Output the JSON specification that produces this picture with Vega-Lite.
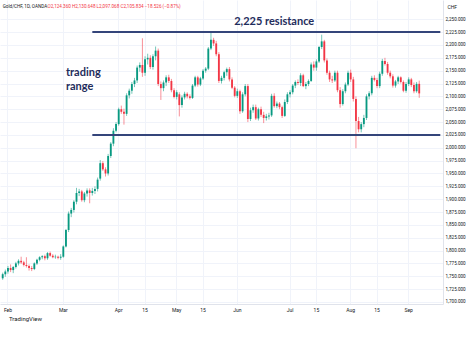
{
  "$schema": "https://vega.github.io/schema/vega-lite/v6.json",
  "width": 443,
  "height": 304,
  "padding": {"left": 0, "top": 0, "right": 0, "bottom": 0},
  "background": "white",
  "title": {"text": "TradingView", "orient": "bottom", "anchor": "start", "fontSize": 6, "font": "Roboto", "fontWeight": "normal", "color": "#131722", "offset": 4, "dx": 9},
  "datasets": {
    "candles": [
      {"d":"2024-01-30","o":1746,"h":1757,"l":1743,"c":1754},
      {"d":"2024-01-31","o":1754,"h":1763,"l":1749,"c":1759},
      {"d":"2024-02-01","o":1759,"h":1770,"l":1755,"c":1766},
      {"d":"2024-02-02","o":1766,"h":1773,"l":1758,"c":1762},
      {"d":"2024-02-05","o":1762,"h":1770,"l":1756,"c":1768},
      {"d":"2024-02-06","o":1768,"h":1778,"l":1765,"c":1775},
      {"d":"2024-02-07","o":1775,"h":1783,"l":1771,"c":1780},
      {"d":"2024-02-08","o":1780,"h":1788,"l":1774,"c":1777},
      {"d":"2024-02-09","o":1777,"h":1780,"l":1769,"c":1772},
      {"d":"2024-02-12","o":1772,"h":1787,"l":1767,"c":1770},
      {"d":"2024-02-13","o":1770,"h":1773,"l":1761,"c":1766},
      {"d":"2024-02-14","o":1766,"h":1770,"l":1760,"c":1764},
      {"d":"2024-02-15","o":1764,"h":1777,"l":1762,"c":1775},
      {"d":"2024-02-16","o":1775,"h":1784,"l":1772,"c":1782},
      {"d":"2024-02-19","o":1782,"h":1789,"l":1779,"c":1787},
      {"d":"2024-02-20","o":1787,"h":1791,"l":1783,"c":1789},
      {"d":"2024-02-21","o":1789,"h":1792,"l":1781,"c":1785},
      {"d":"2024-02-22","o":1785,"h":1797,"l":1782,"c":1795},
      {"d":"2024-02-23","o":1795,"h":1798,"l":1788,"c":1790},
      {"d":"2024-02-26","o":1790,"h":1793,"l":1785,"c":1787},
      {"d":"2024-02-27","o":1787,"h":1792,"l":1784,"c":1788},
      {"d":"2024-02-28","o":1788,"h":1790,"l":1783,"c":1786},
      {"d":"2024-02-29","o":1786,"h":1793,"l":1782,"c":1788},
      {"d":"2024-03-01","o":1788,"h":1810,"l":1786,"c":1808},
      {"d":"2024-03-04","o":1808,"h":1842,"l":1806,"c":1840},
      {"d":"2024-03-05","o":1840,"h":1876,"l":1836,"c":1872},
      {"d":"2024-03-06","o":1872,"h":1883,"l":1865,"c":1879},
      {"d":"2024-03-07","o":1879,"h":1898,"l":1874,"c":1895},
      {"d":"2024-03-08","o":1895,"h":1922,"l":1890,"c":1912},
      {"d":"2024-03-11","o":1912,"h":1920,"l":1906,"c":1915},
      {"d":"2024-03-12","o":1915,"h":1918,"l":1895,"c":1898},
      {"d":"2024-03-13","o":1898,"h":1914,"l":1894,"c":1911},
      {"d":"2024-03-14","o":1911,"h":1921,"l":1905,"c":1917},
      {"d":"2024-03-15","o":1917,"h":1921,"l":1892,"c":1912},
      {"d":"2024-03-18","o":1912,"h":1922,"l":1907,"c":1916},
      {"d":"2024-03-19","o":1916,"h":1925,"l":1910,"c":1920},
      {"d":"2024-03-20","o":1920,"h":1942,"l":1915,"c":1938},
      {"d":"2024-03-21","o":1940,"h":1976,"l":1936,"c":1970},
      {"d":"2024-03-22","o":1970,"h":1974,"l":1955,"c":1958},
      {"d":"2024-03-25","o":1958,"h":1962,"l":1944,"c":1950},
      {"d":"2024-03-26","o":1950,"h":1988,"l":1946,"c":1984},
      {"d":"2024-03-27","o":1984,"h":2011,"l":1980,"c":2008},
      {"d":"2024-03-28","o":2008,"h":2038,"l":2003,"c":2033},
      {"d":"2024-03-29","o":2033,"h":2050,"l":2030,"c":2046},
      {"d":"2024-04-01","o":2046,"h":2078,"l":2043,"c":2075},
      {"d":"2024-04-02","o":2075,"h":2082,"l":2066,"c":2070},
      {"d":"2024-04-03","o":2070,"h":2076,"l":2045,"c":2066},
      {"d":"2024-04-04","o":2066,"h":2106,"l":2062,"c":2102},
      {"d":"2024-04-05","o":2102,"h":2115,"l":2096,"c":2111},
      {"d":"2024-04-08","o":2111,"h":2128,"l":2105,"c":2124},
      {"d":"2024-04-09","o":2124,"h":2136,"l":2118,"c":2131},
      {"d":"2024-04-10","o":2131,"h":2160,"l":2126,"c":2156},
      {"d":"2024-04-11","o":2156,"h":2166,"l":2148,"c":2161},
      {"d":"2024-04-12","o":2161,"h":2213,"l":2138,"c":2146},
      {"d":"2024-04-15","o":2146,"h":2178,"l":2140,"c":2172},
      {"d":"2024-04-16","o":2172,"h":2183,"l":2162,"c":2175},
      {"d":"2024-04-17","o":2175,"h":2180,"l":2153,"c":2157},
      {"d":"2024-04-18","o":2157,"h":2182,"l":2152,"c":2178},
      {"d":"2024-04-19","o":2178,"h":2197,"l":2170,"c":2189},
      {"d":"2024-04-22","o":2189,"h":2193,"l":2120,"c":2124},
      {"d":"2024-04-23","o":2124,"h":2129,"l":2093,"c":2116},
      {"d":"2024-04-24","o":2116,"h":2131,"l":2110,"c":2127},
      {"d":"2024-04-25","o":2127,"h":2141,"l":2120,"c":2137},
      {"d":"2024-04-26","o":2137,"h":2142,"l":2126,"c":2130},
      {"d":"2024-04-29","o":2130,"h":2134,"l":2108,"c":2112},
      {"d":"2024-04-30","o":2112,"h":2116,"l":2096,"c":2099},
      {"d":"2024-05-01","o":2099,"h":2112,"l":2094,"c":2108},
      {"d":"2024-05-02","o":2104,"h":2108,"l":2061,"c":2083},
      {"d":"2024-05-03","o":2083,"h":2102,"l":2078,"c":2098},
      {"d":"2024-05-06","o":2098,"h":2109,"l":2094,"c":2105},
      {"d":"2024-05-07","o":2105,"h":2108,"l":2096,"c":2100},
      {"d":"2024-05-08","o":2100,"h":2104,"l":2094,"c":2097},
      {"d":"2024-05-09","o":2097,"h":2124,"l":2095,"c":2121},
      {"d":"2024-05-10","o":2121,"h":2140,"l":2118,"c":2137},
      {"d":"2024-05-13","o":2137,"h":2140,"l":2119,"c":2123},
      {"d":"2024-05-14","o":2123,"h":2138,"l":2120,"c":2135},
      {"d":"2024-05-15","o":2135,"h":2153,"l":2132,"c":2150},
      {"d":"2024-05-16","o":2150,"h":2157,"l":2146,"c":2154},
      {"d":"2024-05-17","o":2154,"h":2196,"l":2151,"c":2193},
      {"d":"2024-05-20","o":2193,"h":2224,"l":2190,"c":2210},
      {"d":"2024-05-21","o":2210,"h":2214,"l":2198,"c":2203},
      {"d":"2024-05-22","o":2203,"h":2208,"l":2178,"c":2182},
      {"d":"2024-05-23","o":2182,"h":2186,"l":2126,"c":2130},
      {"d":"2024-05-24","o":2130,"h":2140,"l":2125,"c":2136},
      {"d":"2024-05-27","o":2136,"h":2150,"l":2131,"c":2147},
      {"d":"2024-05-28","o":2147,"h":2156,"l":2140,"c":2153},
      {"d":"2024-05-29","o":2153,"h":2157,"l":2129,"c":2133},
      {"d":"2024-05-30","o":2133,"h":2137,"l":2114,"c":2117},
      {"d":"2024-05-31","o":2117,"h":2120,"l":2098,"c":2101},
      {"d":"2024-06-03","o":2101,"h":2115,"l":2097,"c":2110},
      {"d":"2024-06-04","o":2110,"h":2113,"l":2066,"c":2071},
      {"d":"2024-06-05","o":2071,"h":2108,"l":2068,"c":2104},
      {"d":"2024-06-06","o":2104,"h":2124,"l":2100,"c":2120},
      {"d":"2024-06-07","o":2120,"h":2124,"l":2050,"c":2056},
      {"d":"2024-06-10","o":2056,"h":2078,"l":2052,"c":2073},
      {"d":"2024-06-11","o":2073,"h":2084,"l":2068,"c":2079},
      {"d":"2024-06-12","o":2079,"h":2084,"l":2054,"c":2057},
      {"d":"2024-06-13","o":2057,"h":2078,"l":2053,"c":2075},
      {"d":"2024-06-14","o":2075,"h":2080,"l":2060,"c":2064},
      {"d":"2024-06-17","o":2064,"h":2070,"l":2048,"c":2058},
      {"d":"2024-06-18","o":2058,"h":2066,"l":2053,"c":2061},
      {"d":"2024-06-19","o":2061,"h":2068,"l":2055,"c":2063},
      {"d":"2024-06-20","o":2063,"h":2105,"l":2060,"c":2101},
      {"d":"2024-06-21","o":2101,"h":2106,"l":2078,"c":2081},
      {"d":"2024-06-24","o":2081,"h":2090,"l":2077,"c":2086},
      {"d":"2024-06-25","o":2086,"h":2089,"l":2075,"c":2079},
      {"d":"2024-06-26","o":2079,"h":2082,"l":2058,"c":2062},
      {"d":"2024-06-27","o":2062,"h":2094,"l":2060,"c":2089},
      {"d":"2024-06-28","o":2089,"h":2108,"l":2085,"c":2104},
      {"d":"2024-07-01","o":2104,"h":2112,"l":2098,"c":2108},
      {"d":"2024-07-02","o":2108,"h":2124,"l":2104,"c":2121},
      {"d":"2024-07-03","o":2121,"h":2131,"l":2116,"c":2128},
      {"d":"2024-07-04","o":2128,"h":2133,"l":2122,"c":2126},
      {"d":"2024-07-05","o":2126,"h":2145,"l":2120,"c":2141},
      {"d":"2024-07-08","o":2141,"h":2144,"l":2118,"c":2120},
      {"d":"2024-07-09","o":2120,"h":2128,"l":2114,"c":2124},
      {"d":"2024-07-10","o":2124,"h":2133,"l":2120,"c":2130},
      {"d":"2024-07-11","o":2130,"h":2166,"l":2128,"c":2162},
      {"d":"2024-07-12","o":2162,"h":2168,"l":2150,"c":2156},
      {"d":"2024-07-15","o":2156,"h":2172,"l":2150,"c":2168},
      {"d":"2024-07-16","o":2168,"h":2198,"l":2165,"c":2196},
      {"d":"2024-07-17","o":2196,"h":2220,"l":2192,"c":2207},
      {"d":"2024-07-18","o":2207,"h":2210,"l":2166,"c":2170},
      {"d":"2024-07-19","o":2170,"h":2174,"l":2142,"c":2146},
      {"d":"2024-07-22","o":2146,"h":2150,"l":2128,"c":2133},
      {"d":"2024-07-23","o":2133,"h":2140,"l":2126,"c":2131},
      {"d":"2024-07-24","o":2131,"h":2150,"l":2128,"c":2146},
      {"d":"2024-07-25","o":2146,"h":2150,"l":2108,"c":2112},
      {"d":"2024-07-26","o":2112,"h":2118,"l":2078,"c":2085},
      {"d":"2024-07-29","o":2085,"h":2114,"l":2082,"c":2110},
      {"d":"2024-07-30","o":2110,"h":2127,"l":2106,"c":2123},
      {"d":"2024-07-31","o":2123,"h":2150,"l":2120,"c":2146},
      {"d":"2024-08-01","o":2146,"h":2152,"l":2128,"c":2133},
      {"d":"2024-08-02","o":2133,"h":2138,"l":2090,"c":2095},
      {"d":"2024-08-05","o":2095,"h":2100,"l":1999,"c":2052},
      {"d":"2024-08-06","o":2052,"h":2060,"l":2030,"c":2036},
      {"d":"2024-08-07","o":2036,"h":2050,"l":2030,"c":2046},
      {"d":"2024-08-08","o":2046,"h":2064,"l":2040,"c":2058},
      {"d":"2024-08-09","o":2058,"h":2104,"l":2054,"c":2100},
      {"d":"2024-08-12","o":2100,"h":2110,"l":2094,"c":2106},
      {"d":"2024-08-13","o":2106,"h":2140,"l":2102,"c":2136},
      {"d":"2024-08-14","o":2136,"h":2141,"l":2129,"c":2132},
      {"d":"2024-08-15","o":2132,"h":2136,"l":2116,"c":2120},
      {"d":"2024-08-16","o":2120,"h":2148,"l":2116,"c":2144},
      {"d":"2024-08-19","o":2144,"h":2173,"l":2140,"c":2169},
      {"d":"2024-08-20","o":2169,"h":2175,"l":2160,"c":2163},
      {"d":"2024-08-21","o":2163,"h":2167,"l":2142,"c":2146},
      {"d":"2024-08-22","o":2146,"h":2150,"l":2135,"c":2139},
      {"d":"2024-08-23","o":2139,"h":2143,"l":2117,"c":2121},
      {"d":"2024-08-26","o":2121,"h":2132,"l":2117,"c":2129},
      {"d":"2024-08-27","o":2129,"h":2140,"l":2124,"c":2137},
      {"d":"2024-08-28","o":2137,"h":2139,"l":2125,"c":2128},
      {"d":"2024-08-29","o":2128,"h":2131,"l":2108,"c":2111},
      {"d":"2024-08-30","o":2111,"h":2128,"l":2107,"c":2124},
      {"d":"2024-09-02","o":2124,"h":2137,"l":2120,"c":2133},
      {"d":"2024-09-03","o":2133,"h":2136,"l":2118,"c":2122},
      {"d":"2024-09-04","o":2122,"h":2127,"l":2106,"c":2110},
      {"d":"2024-09-05","o":2110,"h":2128,"l":2107,"c":2124.36},
      {"d":"2024-09-06","o":2124.36,"h":2130.648,"l":2097.068,"c":2105.834}
    ],
    "levels": [
      {"d":"2024-03-18","d2":"2024-09-18","p":2225},
      {"d":"2024-03-18","d2":"2024-09-18","p":2025}
    ],
    "note1": [{"d":"2024-06-21","p":2244,"t":"2,225 resistance"}],
    "note2": [
      {"d":"2024-03-04","p":2146,"t":"trading"},
      {"d":"2024-03-04","p":2118,"t":"range"}
    ],
    "head1": [{"d":"2024-01-30","p":2274,"t":"Gold/CHF, 1D, OANDA"}],
    "head2": [{"d":"2024-02-22","p":2274,"t":"O2,124.360 H2,130.648 L2,097.068 C2,105.834 −18.526 (−0.87%)"}]
  },
  "layer": [
    {
      "data": {"name": "candles"},
      "mark": {"type": "rule", "strokeWidth": 1, "opacity": 0.55},
      "encoding": {
        "x": {
          "field": "d", "type": "ordinal", "title": null,
          "scale": {
            "paddingInner": 0.3, "paddingOuter": 0.67,
            "domain": ["2024-01-30","2024-01-31",
              "2024-02-01","2024-02-02","2024-02-05","2024-02-06","2024-02-07","2024-02-08","2024-02-09","2024-02-12","2024-02-13","2024-02-14","2024-02-15","2024-02-16","2024-02-19","2024-02-20","2024-02-21","2024-02-22","2024-02-23","2024-02-26","2024-02-27","2024-02-28","2024-02-29",
              "2024-03-01","2024-03-04","2024-03-05","2024-03-06","2024-03-07","2024-03-08","2024-03-11","2024-03-12","2024-03-13","2024-03-14","2024-03-15","2024-03-18","2024-03-19","2024-03-20","2024-03-21","2024-03-22","2024-03-25","2024-03-26","2024-03-27","2024-03-28","2024-03-29",
              "2024-04-01","2024-04-02","2024-04-03","2024-04-04","2024-04-05","2024-04-08","2024-04-09","2024-04-10","2024-04-11","2024-04-12","2024-04-15","2024-04-16","2024-04-17","2024-04-18","2024-04-19","2024-04-22","2024-04-23","2024-04-24","2024-04-25","2024-04-26","2024-04-29","2024-04-30",
              "2024-05-01","2024-05-02","2024-05-03","2024-05-06","2024-05-07","2024-05-08","2024-05-09","2024-05-10","2024-05-13","2024-05-14","2024-05-15","2024-05-16","2024-05-17","2024-05-20","2024-05-21","2024-05-22","2024-05-23","2024-05-24","2024-05-27","2024-05-28","2024-05-29","2024-05-30","2024-05-31",
              "2024-06-03","2024-06-04","2024-06-05","2024-06-06","2024-06-07","2024-06-10","2024-06-11","2024-06-12","2024-06-13","2024-06-14","2024-06-17","2024-06-18","2024-06-19","2024-06-20","2024-06-21","2024-06-24","2024-06-25","2024-06-26","2024-06-27","2024-06-28",
              "2024-07-01","2024-07-02","2024-07-03","2024-07-04","2024-07-05","2024-07-08","2024-07-09","2024-07-10","2024-07-11","2024-07-12","2024-07-15","2024-07-16","2024-07-17","2024-07-18","2024-07-19","2024-07-22","2024-07-23","2024-07-24","2024-07-25","2024-07-26","2024-07-29","2024-07-30","2024-07-31",
              "2024-08-01","2024-08-02","2024-08-05","2024-08-06","2024-08-07","2024-08-08","2024-08-09","2024-08-12","2024-08-13","2024-08-14","2024-08-15","2024-08-16","2024-08-19","2024-08-20","2024-08-21","2024-08-22","2024-08-23","2024-08-26","2024-08-27","2024-08-28","2024-08-29","2024-08-30",
              "2024-09-02","2024-09-03","2024-09-04","2024-09-05","2024-09-06","2024-09-09","2024-09-10","2024-09-11","2024-09-12","2024-09-13","2024-09-16","2024-09-17","2024-09-18"]
          },
          "axis": {
            "values": ["2024-02-01","2024-03-01","2024-04-01","2024-04-15","2024-05-01","2024-05-15","2024-06-03","2024-07-01","2024-07-15","2024-08-01","2024-08-15","2024-09-02"],
            "labelExpr": "slice(datum.value, 8) == '15' ? '15' : utcFormat(toDate(datum.value), '%b')",
            "labelAngle": 0, "ticks": false, "domain": true, "domainColor": "#e0e3eb",
            "grid": true, "gridColor": "#f0f3fa", "bandPosition": 0.5, "labelOverlap": false,
            "labelFont": "Roboto", "labelFontSize": 5, "labelColor": "#131722", "labelPadding": 3
          }
        },
        "y": {
          "field": "l", "type": "quantitative", "title": "CHF",
          "scale": {"domain": [1696, 2287.5], "nice": false, "zero": false},
          "axis": {
            "orient": "right",
            "values": [1700,1725,1750,1775,1800,1825,1850,1875,1900,1925,1950,1975,2000,2025,2050,2075,2100,2125,2150,2175,2200,2225,2250],
            "tickCount": 40,
            "format": ",.3f", "ticks": false, "domain": true, "domainColor": "#e0e3eb",
            "grid": true, "gridColor": "#f0f3fa", "labelOverlap": false,
            "labelFont": "Roboto", "labelFontSize": 4.6, "labelColor": "#131722", "labelPadding": 2,
            "titleAngle": 0, "titleAlign": "left", "titleBaseline": "middle",
            "titleX": 4, "titleY": 6, "titleFont": "Roboto", "titleFontSize": 5, "titleFontWeight": "normal", "titleColor": "#131722"
          }
        },
        "y2": {"field": "h"},
        "color": {"condition": {"test": "datum.c >= datum.o", "value": "#089981"}, "value": "#f23645"}
      }
    },
    {
      "data": {"name": "candles"},
      "mark": {"type": "bar"},
      "encoding": {
        "x": {"field": "d", "type": "ordinal"},
        "y": {"field": "o", "type": "quantitative"},
        "y2": {"field": "c"},
        "color": {"condition": {"test": "datum.c >= datum.o", "value": "#089981"}, "value": "#f23645"}
      }
    },
    {
      "data": {"name": "levels"},
      "mark": {"type": "rule", "strokeWidth": 2, "color": "#34457a"},
      "encoding": {
        "x": {"field": "d", "type": "ordinal"},
        "x2": {"field": "d2"},
        "y": {"field": "p", "type": "quantitative"}
      }
    },
    {
      "data": {"name": "note1"},
      "mark": {"type": "text", "font": "Lato", "fontWeight": "bold", "fontSize": 11, "color": "#1f2d5c", "align": "center", "baseline": "middle"},
      "encoding": {
        "x": {"field": "d", "type": "ordinal"},
        "y": {"field": "p", "type": "quantitative"},
        "text": {"field": "t"}
      }
    },
    {
      "data": {"name": "note2"},
      "mark": {"type": "text", "font": "Lato", "fontWeight": "bold", "fontSize": 11, "color": "#1f2d5c", "align": "left", "baseline": "middle"},
      "encoding": {
        "x": {"field": "d", "type": "ordinal"},
        "y": {"field": "p", "type": "quantitative"},
        "text": {"field": "t"}
      }
    },
    {
      "data": {"name": "head1"},
      "mark": {"type": "text", "font": "Roboto", "fontSize": 4.6, "color": "#131722", "align": "left", "baseline": "middle"},
      "encoding": {
        "x": {"field": "d", "type": "ordinal"},
        "y": {"field": "p", "type": "quantitative"},
        "text": {"field": "t"}
      }
    },
    {
      "data": {"name": "head2"},
      "mark": {"type": "text", "font": "Roboto", "fontSize": 4.6, "color": "#f23645", "align": "left", "baseline": "middle"},
      "encoding": {
        "x": {"field": "d", "type": "ordinal"},
        "y": {"field": "p", "type": "quantitative"},
        "text": {"field": "t"}
      }
    }
  ],
  "config": {"view": {"stroke": null}, "font": "Roboto"}
}
